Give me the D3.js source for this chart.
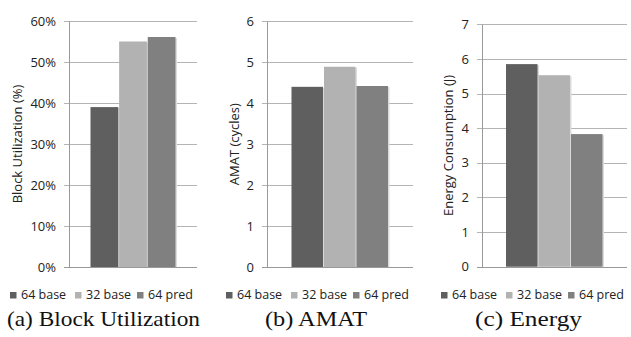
<!DOCTYPE html>
<html><head><meta charset="utf-8">
<script src="https://cdn.jsdelivr.net/npm/d3@7"></script>
<style>
html,body{margin:0;padding:0;background:#fff;}
svg{display:block;}
</style></head>
<body>
<svg id="c" width="631" height="337"></svg>
<script>
// ---- data ----
const seriesNames = ["64 base", "32 base", "64 pred"];
const blockUtilization = [0.39, 0.55, 0.561];
const amatCycles = [4.4, 4.89, 4.42];
const energyJoules = [5.85, 5.53, 3.83];
const utilTicks = [0, 0.1, 0.2, 0.3, 0.4, 0.5, 0.6];
const amatTicks = [0, 1, 2, 3, 4, 5, 6];
const energyTicks = [0, 1, 2, 3, 4, 5, 6, 7];
const yTitles = ["Block Utilization (%)", "AMAT (cycles)", "Energy Consumption (J)"];
const captions = ["(a) Block Utilization", "(b) AMAT", "(c) Energy"];

const colors = ["#5f5f5f", "#b2b2b2", "#808080"];

const panels = [
  {values: blockUtilization, ticks: utilTicks, max: 0.6, fmt: d3.format(".0%"),
   axisX: 69, right: 197, top: 21, bottom: 267, barL: 90.5, barR: 175.5,
   titleX: 19, legendX: 10, capX: 7, capW: 193},
  {values: amatCycles, ticks: amatTicks, max: 6, fmt: d3.format("d"),
   axisX: 267, right: 413, top: 21.3, bottom: 267, barL: 291.5, barR: 388,
   titleX: 236, legendX: 226, capX: 265, capW: 102},
  {values: energyJoules, ticks: energyTicks, max: 7, fmt: d3.format("d"),
   axisX: 482, right: 627, top: 24.3, bottom: 266.7, barL: 506, barR: 602.5,
   titleX: 449.5, legendX: 441, capX: 475, capW: 107}
];

const svg = d3.select("#c");
const sans = "'Open Sans', 'Liberation Sans', sans-serif";

panels.forEach((p, i) => {
  const g = svg.append("g");
  const y = d3.scaleLinear().domain([0, p.max]).range([p.bottom, p.top]);
  const x = d3.scaleBand().domain(seriesNames).range([p.barL, p.barR]).paddingInner(0.03);

  // gridlines
  g.append("g").selectAll("line").data(p.ticks).join("line")
    .attr("x1", p.axisX - 5).attr("x2", p.right)
    .attr("y1", d => Math.round(y(d)) + 0.5).attr("y2", d => Math.round(y(d)) + 0.5)
    .attr("stroke", d => d === 0 ? "#999" : "#b4b4b4").attr("stroke-width", 1);

  // y axis line
  g.append("line").attr("x1", p.axisX + 0.5).attr("x2", p.axisX + 0.5)
    .attr("y1", Math.round(y(p.max)) + 0.5).attr("y2", Math.round(y(0)) + 0.5)
    .attr("stroke", "#999");

  // tick labels
  const ax = d3.axisLeft(y).tickValues(p.ticks).tickFormat(p.fmt).tickSize(0).tickPadding(0);
  const axg = g.append("g").attr("transform", `translate(${p.axisX - 13},0)`).call(ax);
  axg.select(".domain").remove();
  axg.selectAll("text").attr("font-family", sans).attr("font-size", 13).attr("fill", "#222");

  // bar shadows
  g.append("g").selectAll("rect").data(p.values).join("rect")
    .attr("x", (d, j) => x(seriesNames[j]) + 1.5)
    .attr("y", d => y(d) + 1)
    .attr("width", x.bandwidth())
    .attr("height", d => y(0) - y(d) - 1)
    .attr("fill", "#dcdcdc");
  // bars
  g.append("g").selectAll("rect").data(p.values).join("rect")
    .attr("x", (d, j) => x(seriesNames[j]))
    .attr("y", d => y(d))
    .attr("width", x.bandwidth())
    .attr("height", d => y(0) - y(d))
    .attr("fill", (d, j) => colors[j]);

  // y title
  g.append("text").attr("transform", `translate(${p.titleX},${(p.top + p.bottom) / 2}) rotate(-90)`)
    .attr("text-anchor", "middle").attr("dominant-baseline", "middle")
    .attr("font-family", sans).attr("font-size", 13).attr("fill", "#222")
    .text(yTitles[i]);

  // legend
  const lg = g.append("g").attr("transform", `translate(${p.legendX},0)`);
  const offs = [0, 65, 127];
  seriesNames.forEach((s, j) => {
    lg.append("rect").attr("x", offs[j]).attr("y", 292).attr("width", 6.5).attr("height", 6.5)
      .attr("fill", colors[j]);
    lg.append("text").attr("x", offs[j] + 11).attr("y", 299)
      .attr("font-family", sans).attr("font-size", 12.5).attr("fill", "#222").text(s);
  });

  // caption
  svg.append("text").attr("x", p.capX).attr("y", 326)
    .attr("font-family", "'Liberation Serif', 'DejaVu Serif', serif").attr("font-size", 21)
    .attr("textLength", p.capW).attr("lengthAdjust", "spacingAndGlyphs")
    .attr("fill", "#111").text(captions[i]);
});
</script>
</body></html>
